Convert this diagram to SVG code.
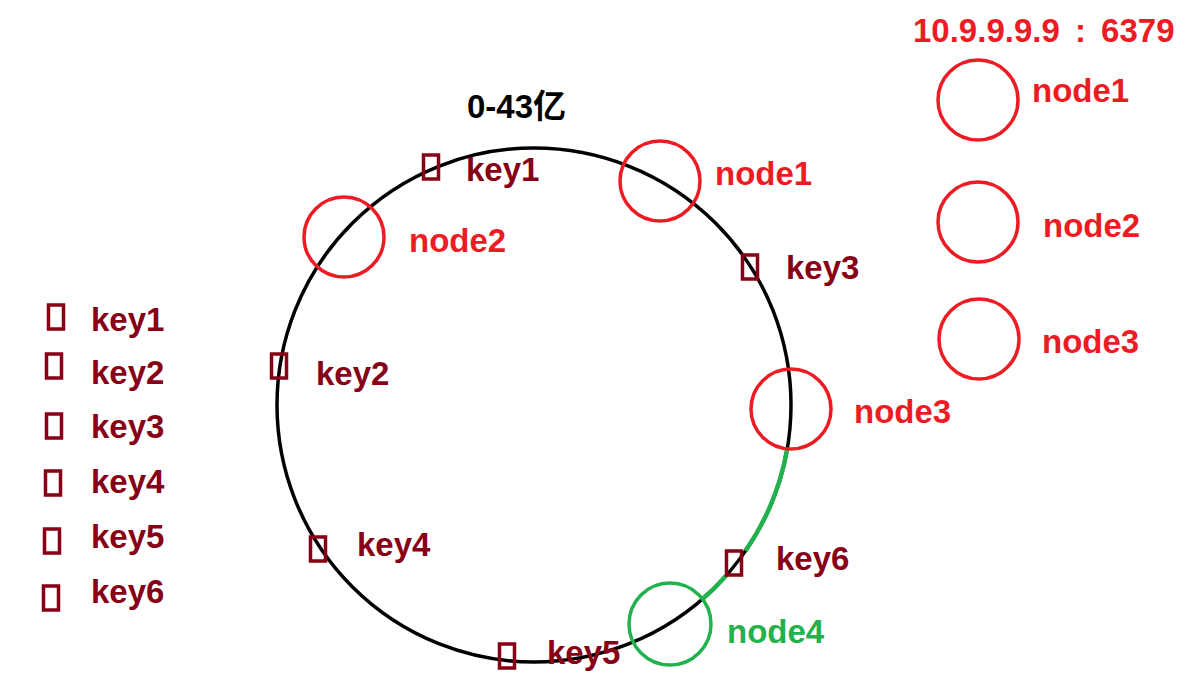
<svg xmlns="http://www.w3.org/2000/svg" width="1185" height="688" viewBox="0 0 1185 688">
  <style>
    text { font-family: "Liberation Sans", "Noto Sans CJK SC", sans-serif; font-weight: bold; font-size: 33px; }
    .node { fill: none; stroke: #ED1C24; stroke-width: 3.5; }
    .node-green { fill: none; stroke: #22B14C; stroke-width: 3.5; }
    .node-label { fill: #ED1C24; }
    .green-label { fill: #22B14C; }
    .key { fill: none; stroke: #880015; stroke-width: 3.5; }
    .key-label { fill: #880015; }
    .ring { fill: none; stroke: #000000; stroke-width: 3.5; }
    .ring-green { fill: none; stroke: #22B14C; stroke-width: 4.5; }
  </style>

  <rect x="0" y="0" width="1185" height="688" fill="#ffffff"/>

  <!-- hash ring and the highlighted segment -->
  <g id="connectors">
    <circle class="ring" cx="534" cy="405" r="257"/>
    <path class="ring-green" d="M787.2 448.7 A257 257 0 0 1 745.5 550.9"/>
    <path class="ring-green" d="M725.9 576 A257 257 0 0 1 701.6 599.8"/>
  </g>

  <g id="title">
    <text x="467" y="118" fill="#000000" font-size="33">0-43亿</text>
  </g>

  <!-- nodes on the ring -->
  <g id="ring-node1">
    <circle class="node" cx="660" cy="181" r="40"/>
    <text class="node-label" x="715" y="185">node1</text>
  </g>
  <g id="ring-node2">
    <circle class="node" cx="344" cy="237" r="40"/>
    <text class="node-label" x="409" y="252">node2</text>
  </g>
  <g id="ring-node3">
    <circle class="node" cx="791" cy="409" r="40"/>
    <text class="node-label" x="854" y="423">node3</text>
  </g>
  <g id="ring-node4">
    <circle class="node-green" cx="670" cy="624" r="41"/>
    <text class="green-label" x="727" y="643">node4</text>
  </g>

  <!-- keys on the ring -->
  <g id="ring-key1">
    <rect class="key" x="423.5" y="155" width="15" height="24"/>
    <text class="key-label" x="466" y="181">key1</text>
  </g>
  <g id="ring-key2">
    <rect class="key" x="271.5" y="354" width="15" height="24"/>
    <text class="key-label" x="316" y="385">key2</text>
  </g>
  <g id="ring-key3">
    <rect class="key" x="742.5" y="255" width="15" height="24"/>
    <text class="key-label" x="786" y="279">key3</text>
  </g>
  <g id="ring-key4">
    <rect class="key" x="310.5" y="537" width="15" height="24"/>
    <text class="key-label" x="357" y="556">key4</text>
  </g>
  <g id="ring-key5">
    <rect class="key" x="499.5" y="644" width="15" height="24"/>
    <text class="key-label" x="547" y="664">key5</text>
  </g>
  <g id="ring-key6">
    <rect class="key" x="726.5" y="551" width="15" height="24"/>
    <text class="key-label" x="776" y="570">key6</text>
  </g>

  <!-- server list -->
  <g id="server-address">
    <text class="node-label" x="913" y="42" font-size="32" word-spacing="6">10.9.9.9.9 : 6379</text>
  </g>
  <g id="list-node1">
    <circle class="node" cx="978" cy="100" r="40"/>
    <text class="node-label" x="1032" y="102">node1</text>
  </g>
  <g id="list-node2">
    <circle class="node" cx="978" cy="222" r="40"/>
    <text class="node-label" x="1043" y="237">node2</text>
  </g>
  <g id="list-node3">
    <circle class="node" cx="979" cy="339" r="40"/>
    <text class="node-label" x="1042" y="353">node3</text>
  </g>

  <!-- key list -->
  <g id="list-key1">
    <rect class="key" x="48.5" y="305" width="15" height="24"/>
    <text class="key-label" x="91" y="331">key1</text>
  </g>
  <g id="list-key2">
    <rect class="key" x="46.5" y="354" width="15" height="24"/>
    <text class="key-label" x="91" y="384">key2</text>
  </g>
  <g id="list-key3">
    <rect class="key" x="46.5" y="414" width="15" height="24"/>
    <text class="key-label" x="91" y="438">key3</text>
  </g>
  <g id="list-key4">
    <rect class="key" x="45.5" y="471" width="15" height="24"/>
    <text class="key-label" x="91" y="493">key4</text>
  </g>
  <g id="list-key5">
    <rect class="key" x="44.5" y="529" width="15" height="24"/>
    <text class="key-label" x="91" y="548">key5</text>
  </g>
  <g id="list-key6">
    <rect class="key" x="43.5" y="586" width="15" height="24"/>
    <text class="key-label" x="91" y="603">key6</text>
  </g>
</svg>
